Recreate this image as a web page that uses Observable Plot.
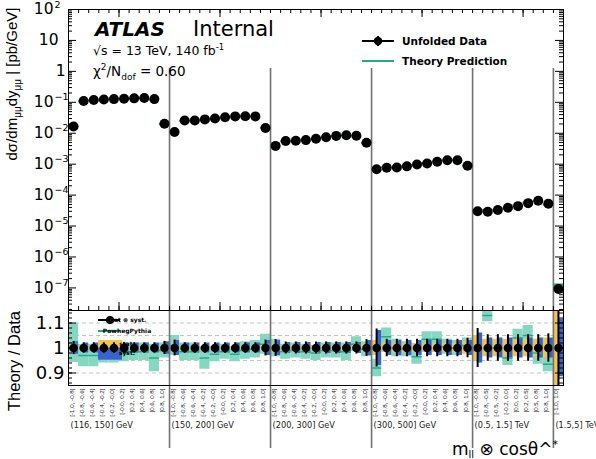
<!DOCTYPE html>
<html><head><meta charset="utf-8">
<script src="https://cdn.jsdelivr.net/npm/d3@7"></script>
<script src="https://cdn.jsdelivr.net/npm/@observablehq/plot@0.6"></script>
<style>
body{margin:0;background:#fff;}
#wrap{position:relative;width:596px;height:459px;overflow:hidden;}
#wrap svg{position:absolute;left:0;}
</style></head><body><div id="wrap"></div>
<script>
// ---------------- data ----------------
const massGroups = ["(116, 150] GeV","(150, 200] GeV","(200, 300] GeV","(300, 500] GeV","(0.5, 1.5] TeV","(1.5,5] TeV"];
const cosBinsStd = ["[-1.0, -0.8]","[-0.8, -0.6]","[-0.6, -0.4]","[-0.4, -0.2]","[-0.2, -0.0]","[-0.0, 0.2]","[0.2, 0.4]","[0.4, 0.6]","[0.6, 0.8]","[0.8, 1.0]"];
const cosBinsHigh = ["[-1.0, -0.8]","[-0.8, -0.5]","[-0.5, -0.2]","[-0.2, 0.0]","[0.0, 0.2]","[0.2, 0.5]","[0.5, 0.8]","[0.8, 1.0]"];
const cosBinsLast = ["[-1.0, 1.0]"];
const groupBins = [cosBinsStd, cosBinsStd, cosBinsStd, cosBinsStd, cosBinsHigh, cosBinsLast];

// unfolded data  [pb/GeV]
const dataValues = [
  0.0166, 0.110, 0.118, 0.123, 0.127, 0.131, 0.134, 0.137, 0.127, 0.0203,
  0.0110, 0.0257, 0.0257, 0.0280, 0.0300, 0.0330, 0.0350, 0.0355, 0.0350, 0.0148,
  0.0039, 0.0056, 0.0057, 0.0060, 0.0066, 0.0074, 0.0082, 0.0086, 0.0083, 0.0049,
  0.00069, 0.00077, 0.00078, 0.00085, 0.00098, 0.00105, 0.00120, 0.00134, 0.00134, 0.00089,
  3.0e-5, 2.9e-5, 3.3e-5, 3.9e-5, 4.4e-5, 5.5e-5, 6.6e-5, 5.3e-5,
  9.3e-8
];
// theory / data
const theoryRatio = [
  1.02, 0.97, 0.97, 0.975, 0.975, 0.98, 0.985, 0.985, 0.96, 0.99,
  1.01, 0.985, 0.985, 0.96, 0.975, 0.985, 0.975, 0.99, 0.995, 1.015,
  1.0, 0.985, 0.99, 0.985, 0.98, 0.99, 0.99, 0.985, 1.015, 0.995,
  0.92, 1.045, 1.0, 0.995, 0.965, 1.035, 1.035, 1.005, 1.0, 1.01,
  0.99, 1.13, 1.0, 0.96, 1.04, 1.05, 0.98, 0.935,
  1.4
];
// theory uncertainty (half width, relative)
const theoryBand = [
  0.078, 0.045, 0.045, 0.035, 0.035, 0.035, 0.035, 0.035, 0.055, 0.03,
  0.04, 0.035, 0.035, 0.045, 0.03, 0.03, 0.03, 0.035, 0.035, 0.04,
  0.035, 0.03, 0.03, 0.03, 0.03, 0.03, 0.03, 0.035, 0.03, 0.03,
  0.035, 0.035, 0.035, 0.03, 0.03, 0.03, 0.03, 0.03, 0.03, 0.03,
  0.045, 0.025, 0.03, 0.03, 0.035, 0.04, 0.045, 0.03,
  0.05
];
const statErr = [
  0.008, 0.005, 0.005, 0.005, 0.005, 0.005, 0.005, 0.005, 0.005, 0.008,
  0.01, 0.006, 0.006, 0.006, 0.006, 0.006, 0.006, 0.006, 0.006, 0.01,
  0.015, 0.01, 0.01, 0.01, 0.01, 0.01, 0.01, 0.01, 0.01, 0.015,
  0.03, 0.018, 0.018, 0.018, 0.018, 0.018, 0.018, 0.018, 0.018, 0.025,
  0.05, 0.035, 0.035, 0.035, 0.035, 0.035, 0.035, 0.04,
  0.3
];
const systErr = [
  0.025, 0.02, 0.02, 0.02, 0.02, 0.02, 0.02, 0.02, 0.02, 0.025,
  0.03, 0.02, 0.02, 0.02, 0.02, 0.02, 0.02, 0.02, 0.02, 0.03,
  0.03, 0.022, 0.022, 0.022, 0.022, 0.022, 0.022, 0.022, 0.022, 0.03,
  0.07, 0.03, 0.03, 0.03, 0.03, 0.03, 0.03, 0.03, 0.03, 0.03,
  0.06, 0.04, 0.04, 0.04, 0.04, 0.04, 0.04, 0.04,
  0.115
];
const yTickExps = [2, 1, 0, -1, -2, -3, -4, -5, -6, -7];
const ratioTicks = [0.9, 1, 1.1];
const ratioGrid = [0.9, 0.95, 1.05, 1.1];

// ---------------- build table ----------------
const bins = [];
const groupStarts = [];
let k = 0;
groupBins.forEach((labels, g) => {
  groupStarts.push({start: k, name: massGroups[g]});
  labels.forEach(lab => {
    const tot = Math.hypot(statErr[k], systErr[k]);
    bins.push({
      g, label: lab, x0: k, x1: k + 1, xc: k + 0.5,
      value: dataValues[k], theory: dataValues[k] * theoryRatio[k],
      ratio: theoryRatio[k], band: theoryBand[k],
      stat: statErr[k], syst: systErr[k], tot
    });
    k++;
  });
});
const nBins = bins.length;
const groupEdges = groupStarts.slice(1).map(d => d.start);

// ---------------- layout ----------------
const W = 596, H = 459;
const ML = 68, MR = 33;
const MAIN_H = 310, MAIN_TOP = 9;
const RATIO_H = H - MAIN_H, RATIO_FRAME = 75;
const frameW = W - ML - MR;
const mainFrameH = MAIN_H - MAIN_TOP;
const teal = "#25a98a", tealBox = "#86d7c1", statCol = "#f2c54c", systCol = "#3a62cb", sepCol = "#727272";
const FONT = "DejaVu Sans, sans-serif";
const NFONT = "Liberation Sans, Arial, sans-serif";

const yDomain = [Math.pow(10, -7.73), 100];
const logMinor = [];
for (let e = -8; e <= 1; e++) for (let m = 2; m <= 9; m++) {
  const v = m * Math.pow(10, e);
  if (v > yDomain[0] && v < yDomain[1]) logMinor.push(v);
}
const logMajor = yTickExps.map(e => Math.pow(10, e));
const xMinorTicks = d3.range(1, nBins);
const xMajorTicks = [5, 15, 25, 35, 45];

const wrap = document.getElementById("wrap");

// ---------------- main panel ----------------
const main = Plot.plot({
  width: W, height: MAIN_H,
  marginTop: MAIN_TOP, marginBottom: 0, marginLeft: ML, marginRight: MR,
  style: {background: "transparent", fontFamily: FONT, overflow: "visible"},
  x: {domain: [0, nBins], axis: null},
  y: {type: "log", domain: yDomain, axis: null},
  marks: [
    Plot.ruleX(groupEdges, {x: d => d, insetTop: 59, stroke: sepCol, strokeWidth: 1.6}),
    Plot.ruleY(bins, {x1: "x0", x2: "x1", y: "theory", stroke: teal, strokeWidth: 2}),
    Plot.ruleX(bins, {x: "xc", y1: d => d.value * (1 - d.tot), y2: d => d.value * (1 + d.tot), stroke: "black", strokeWidth: 1.5}),
    Plot.dot(bins, {x: "xc", y: "value", r: 5, fill: "black"}),
    Plot.ruleY(logMajor, {y: d => d, insetRight: frameW - 8, stroke: "black"}),
    Plot.ruleY(logMinor, {y: d => d, insetRight: frameW - 4, stroke: "black"}),
    Plot.ruleY(logMajor, {y: d => d, insetLeft: frameW - 8, stroke: "black"}),
    Plot.ruleY(logMinor, {y: d => d, insetLeft: frameW - 4, stroke: "black"}),
    Plot.ruleX(xMinorTicks, {x: d => d, insetBottom: mainFrameH - 4, stroke: "black"}),
    Plot.ruleX(xMajorTicks, {x: d => d, insetBottom: mainFrameH - 8, stroke: "black"}),
    Plot.ruleX(xMinorTicks, {x: d => d, insetTop: mainFrameH - 4, stroke: "black"}),
    Plot.ruleX(xMajorTicks, {x: d => d, insetTop: mainFrameH - 8, stroke: "black"}),
    Plot.text(yTickExps.filter(e => e >= 2 || e < 0), {y: d => Math.pow(10, d), frameAnchor: "left", text: () => "10", textAnchor: "end", dx: -15, fontSize: 15.5, fontFamily: FONT}),
    Plot.text(yTickExps.filter(e => e >= 2 || e < 0), {y: d => Math.pow(10, d), frameAnchor: "left", text: d => d > 0 ? String(d) : "\u2212" + (-d), textAnchor: "start", dx: -14, dy: -5, fontSize: 9.5, fontFamily: FONT}),
    Plot.text(yTickExps.filter(e => e === 1), {y: d => Math.pow(10, d), frameAnchor: "left", text: () => "10", textAnchor: "end", dx: -10, fontSize: 15.5, fontFamily: FONT}),
    Plot.text(yTickExps.filter(e => e === 0), {y: d => Math.pow(10, d), frameAnchor: "left", text: () => "1", textAnchor: "end", dx: -3, fontSize: 15.5, fontFamily: FONT}),
    Plot.frame({stroke: "black"})
  ]
});
main.style.top = "0px";
wrap.appendChild(main);

// ---------------- ratio panel ----------------
const RLO = 0.85, RHI = 1.15;
const clampR = v => Math.max(RLO, Math.min(RHI, v));
const ratioMinor = d3.range(43, 58).map(i => +(i * 0.02).toFixed(2));

function ratioLegend() {
  const g = d3.create("svg:g").attr("font-family", FONT).attr("font-size", 6).attr("font-weight", "bold");
  const oy = -MAIN_H;
  g.append("line").attr("x1", 98).attr("x2", 120).attr("y1", 320 + oy).attr("y2", 320 + oy).attr("stroke", "black").attr("stroke-width", 2);
  g.append("line").attr("x1", 110).attr("x2", 110).attr("y1", 316 + oy).attr("y2", 324 + oy).attr("stroke", "black").attr("stroke-width", 2);
  g.append("circle").attr("cx", 110).attr("cy", 320 + oy).attr("r", 4).attr("fill", "black");
  g.append("text").attr("x", 127).attr("y", 322 + oy).text("stat \u2295 syst.");
  g.append("line").attr("x1", 98).attr("x2", 120).attr("y1", 331 + oy).attr("y2", 331 + oy).attr("stroke", teal).attr("stroke-width", 2);
  g.append("text").attr("x", 127).attr("y", 333 + oy).text("PowhegPythia");
  g.append("rect").attr("x", 98).attr("y", 340 + oy).attr("width", 24).attr("height", 7.7).attr("fill", statCol);
  g.append("text").attr("x", 127).attr("y", 346 + oy).text("stat.");
  g.append("rect").attr("x", 98).attr("y", 347.7 + oy).attr("width", 24).attr("height", 12).attr("fill", systCol);
  g.append("text").attr("x", 127).attr("y", 355 + oy).text("syst.");
  return g.node();
}

const ratio = Plot.plot({
  width: W, height: RATIO_H,
  marginTop: 0, marginBottom: RATIO_H - RATIO_FRAME, marginLeft: ML, marginRight: MR,
  style: {background: "transparent", fontFamily: FONT, overflow: "visible"},
  x: {domain: [0, nBins], axis: null},
  y: {domain: [RLO, RHI], axis: null},
  marks: [
    Plot.ruleY(ratioGrid, {y: d => d, stroke: "#c4c4c4", strokeDasharray: "4,3"}),
    Plot.rect(bins, {x1: "x0", x2: "x1", y1: d => clampR(d.ratio - d.band), y2: d => clampR(d.ratio + d.band), fill: tealBox}),
    Plot.rect(bins, {x1: "x0", x2: "xc", y1: d => clampR(1 - d.stat), y2: d => clampR(1 + d.stat), fill: statCol}),
    Plot.rect(bins, {x1: "xc", x2: "x1", y1: d => clampR(1 - d.syst), y2: d => clampR(1 + d.syst), fill: systCol}),
    Plot.ruleY(bins.filter(d => d.ratio > RLO && d.ratio < RHI), {x1: "x0", x2: "x1", y: "ratio", stroke: teal, strokeWidth: 1.5}),
    ratioLegend,
    Plot.ruleX(bins, {x: "xc", y1: d => clampR(1 - d.tot), y2: d => clampR(1 + d.tot), stroke: "black", strokeWidth: 2}),
    Plot.dot(bins, {x: "xc", y: () => 1, r: 4.3, fill: "black"}),
    Plot.ruleY(ratioTicks, {y: d => d, insetRight: frameW - 8, stroke: "black"}),
    Plot.ruleY(ratioMinor, {y: d => d, insetRight: frameW - 4, stroke: "black"}),
    Plot.ruleY(ratioTicks, {y: d => d, insetLeft: frameW - 8, stroke: "black"}),
    Plot.ruleY(ratioMinor, {y: d => d, insetLeft: frameW - 4, stroke: "black"}),
    Plot.text(ratioTicks, {y: d => d, frameAnchor: "left", text: d => String(d), textAnchor: "end", dx: -4, fontSize: 18, fontFamily: FONT}),
    Plot.ruleX(groupEdges, {x: d => d, insetBottom: -63, stroke: sepCol, strokeWidth: 1.6}),
    Plot.text(bins, {x: "xc", text: "label", frameAnchor: "bottom", dy: 3, rotate: -90, textAnchor: "end", fontSize: 6.2, fontFamily: NFONT, fill: "#222"}),
    Plot.text(groupStarts, {x: d => d.start, text: "name", frameAnchor: "bottom", dx: 2, dy: 42, textAnchor: "start", fontSize: 8.2, fontFamily: FONT, fill: "#222"}),
    Plot.frame({stroke: "black"})
  ]
});
ratio.style.top = MAIN_H + "px";
wrap.appendChild(ratio);

// ---------------- overlay texts ----------------
const ov = d3.create("svg").attr("width", W).attr("height", H).style("top", "0px").style("pointer-events", "none")
  .attr("font-family", FONT);
ov.append("text").attr("x", 95).attr("y", 36).attr("font-size", 20).attr("font-weight", "bold").attr("font-style", "italic").text("ATLAS");
ov.append("text").attr("x", 193).attr("y", 36).attr("font-size", 21).text("Internal");
const t1 = ov.append("text").attr("x", 93).attr("y", 55).attr("font-size", 12.5);
t1.append("tspan").text("\u221As = 13 TeV, 140 fb");
t1.append("tspan").attr("dy", -5).attr("font-size", 8.5).text("-1");
const t2 = ov.append("text").attr("x", 93).attr("y", 76).attr("font-size", 13.5);
t2.append("tspan").text("\u03C7");
t2.append("tspan").attr("dy", -6).attr("font-size", 9).text("2");
t2.append("tspan").attr("dy", 6).text("/N");
t2.append("tspan").attr("dy", 4).attr("font-size", 9).text("dof");
t2.append("tspan").attr("dy", -4).text(" = 0.60");

ov.append("line").attr("x1", 362).attr("x2", 394).attr("y1", 41).attr("y2", 41).attr("stroke", "black").attr("stroke-width", 2);
ov.append("line").attr("x1", 378).attr("x2", 378).attr("y1", 36).attr("y2", 46).attr("stroke", "black").attr("stroke-width", 2);
ov.append("circle").attr("cx", 378).attr("cy", 41).attr("r", 4.2).attr("fill", "black");
ov.append("text").attr("x", 402).attr("y", 45).attr("font-size", 10.5).attr("font-weight", "bold").text("Unfolded Data");
ov.append("line").attr("x1", 362).attr("x2", 394).attr("y1", 61).attr("y2", 61).attr("stroke", teal).attr("stroke-width", 2);
ov.append("text").attr("x", 402).attr("y", 65).attr("font-size", 10.5).attr("font-weight", "bold").text("Theory Prediction");

const yt = ov.append("text").attr("transform", "translate(17,84) rotate(-90)").attr("text-anchor", "middle")
  .attr("font-family", NFONT).attr("font-size", 15);
yt.append("tspan").text("d\u03C3/dm");
yt.append("tspan").attr("dy", 4).attr("font-size", 10).text("\u03BC\u03BC");
yt.append("tspan").attr("dy", -4).text("dy");
yt.append("tspan").attr("dy", 4).attr("font-size", 10).text("\u03BC\u03BC");
yt.append("tspan").attr("dy", -4).text(" | [pb/GeV]");
ov.append("text").attr("transform", "translate(20,361) rotate(-90)").attr("text-anchor", "middle")
  .attr("font-family", NFONT).attr("font-size", 16.5).text("Theory / Data");

const xt = ov.append("text").attr("x", 452).attr("y", 455).attr("font-size", 17);
xt.append("tspan").text("m");
xt.append("tspan").attr("dy", 3).attr("font-size", 10).text("ll");
xt.append("tspan").attr("dy", -3).text(" \u2297 cos\u03B8^");
xt.append("tspan").attr("dy", -7).attr("font-size", 11).text("*");
wrap.appendChild(ov.node());
</script>
</body></html>
